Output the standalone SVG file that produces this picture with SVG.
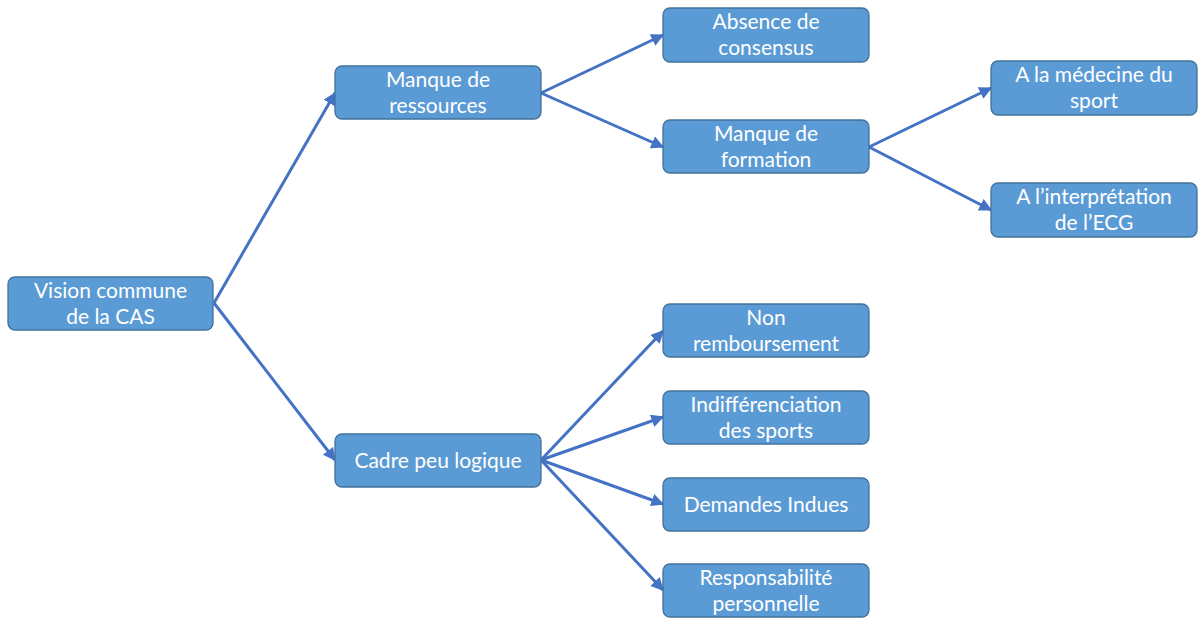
<svg xmlns="http://www.w3.org/2000/svg" width="1198" height="619" viewBox="0 0 1198 619">
<style>
.box{fill:#5B9BD5;stroke:#41719C;stroke-width:1.3}
.t{font-family:Lato,"Liberation Sans",sans-serif;font-size:21px;fill:#fff;text-anchor:middle}
.c{stroke:#4472C4;stroke-width:3;fill:none;marker-end:url(#ah)}
</style>
<defs>
<marker id="ah" viewBox="0 0 10 10" refX="9" refY="5" markerWidth="4.3" markerHeight="4.3" orient="auto" markerUnits="strokeWidth">
<path d="M0,0 L10,5 L0,10 z" fill="#4472C4"/>
</marker>
</defs>
<g id="connectors">
<line class="c" x1="214" y1="303" x2="335" y2="93"/>
<line class="c" x1="214" y1="303" x2="335" y2="460"/>
<line class="c" x1="541" y1="93" x2="663" y2="35"/>
<line class="c" x1="541" y1="93" x2="663" y2="147"/>
<line class="c" x1="869" y1="147" x2="991" y2="88"/>
<line class="c" x1="869" y1="147" x2="991" y2="210"/>
<line class="c" x1="541" y1="460" x2="663" y2="331"/>
<line class="c" x1="541" y1="460" x2="663" y2="417"/>
<line class="c" x1="541" y1="460" x2="663" y2="504"/>
<line class="c" x1="541" y1="460" x2="663" y2="590"/>
</g>
<g id="n-vision"><rect class="box" x="8" y="277" width="205" height="53" rx="7"/><text class="t" x="110.5" y="298">Vision commune</text><text class="t" x="110.5" y="324">de la CAS</text></g>
<g id="n-ressources"><rect class="box" x="335" y="66" width="206" height="53" rx="7"/><text class="t" x="438" y="87">Manque de</text><text class="t" x="438" y="113">ressources</text></g>
<g id="n-consensus"><rect class="box" x="663" y="8" width="206" height="54" rx="7"/><text class="t" x="766" y="29">Absence de</text><text class="t" x="766" y="55">consensus</text></g>
<g id="n-formation"><rect class="box" x="663" y="120" width="206" height="53" rx="7"/><text class="t" x="766" y="141">Manque de</text><text class="t" x="766" y="167">formation</text></g>
<g id="n-medecine"><rect class="box" x="991" y="61" width="206" height="54" rx="7"/><text class="t" x="1094" y="82">A la médecine du</text><text class="t" x="1094" y="108">sport</text></g>
<g id="n-ecg"><rect class="box" x="991" y="183" width="206" height="54" rx="7"/><text class="t" x="1094" y="204">A l’interprétation</text><text class="t" x="1094" y="230">de l’ECG</text></g>
<g id="n-cadre"><rect class="box" x="335" y="434" width="206" height="53" rx="7"/><text class="t" x="438" y="468">Cadre peu logique</text></g>
<g id="n-rembours"><rect class="box" x="663" y="304" width="206" height="53" rx="7"/><text class="t" x="766" y="325">Non</text><text class="t" x="766" y="351">remboursement</text></g>
<g id="n-indiff"><rect class="box" x="663" y="391" width="206" height="53" rx="7"/><text class="t" x="766" y="412">Indifférenciation</text><text class="t" x="766" y="438">des sports</text></g>
<g id="n-demandes"><rect class="box" x="663" y="478" width="206" height="53" rx="7"/><text class="t" x="766" y="512">Demandes Indues</text></g>
<g id="n-respons"><rect class="box" x="663" y="564" width="206" height="53" rx="7"/><text class="t" x="766" y="585">Responsabilité</text><text class="t" x="766" y="611">personnelle</text></g>
</svg>
